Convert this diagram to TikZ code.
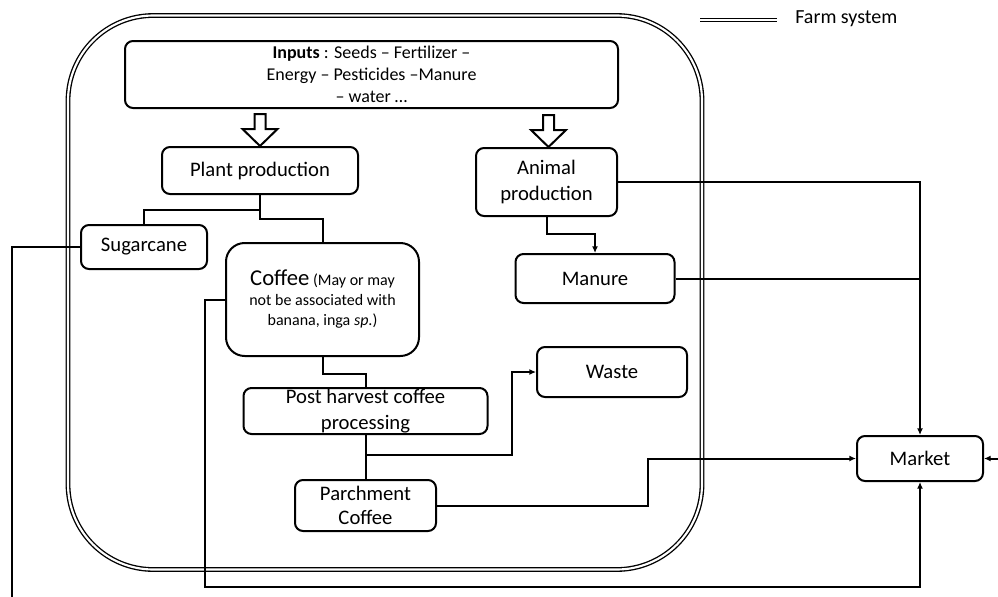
\documentclass[tikz,border=0pt]{standalone}
\usepackage{fontspec}
\setmainfont{Carlito}
\usetikzlibrary{arrows.meta}
\tikzset{
  box/.style={draw, line width=1.5pt, rounded corners=6pt, inner sep=0pt,
    align=center, font=\fontsize{15.5}{19}\selectfont},
  link/.style={line width=1.5pt},
  arr/.style={link, -{Latex[length=5pt,width=4.5pt]}},
  farm/.style={double, line width=1pt, double distance=1.6pt},
  hollow/.pic={
    \draw[line width=1.5pt, line join=miter, fill=white]
      (-5.5,-32) -- (-5.5,-17) -- (-17.5,-17) -- (0,0) -- (17.5,-17)
      -- (5.5,-17) -- (5.5,-32) -- cycle;
  }
}
\begin{document}
\begin{tikzpicture}[x=0.75pt,y=-0.75pt]
\useasboundingbox (0,0) rectangle (998,596);
\fill[white] (0,0) rectangle (998,596);

% farm system boundary and legend
\draw[farm, rounded corners=64pt] (68,15.5) rectangle (702,569.5);
\node[anchor=west, inner sep=0pt, font=\fontsize{15}{18}\selectfont] (legend) at (795,19) {Farm system};
\draw[farm] (700,20) -- (777,20);

% boxes
\node[box, minimum width=369.75pt, minimum height=50.25pt,
      font=\fontsize{13.5}{16.5}\selectfont] (inputs) at (371.5,74.5)
  {\textbf{Inputs} : Seeds – Fertilizer –\\ Energy – Pesticides –Manure\\ – water …};
\node[box, minimum width=147pt, minimum height=35.25pt] (plant) at (260,170.5) {Plant production};
\node[box, minimum width=105.75pt, minimum height=51pt] (animal) at (546.5,182) {Animal\\production};
\node[box, minimum width=94.5pt, minimum height=33pt] (sugar) at (144,247) {Sugarcane};
\node[box, rounded corners=14pt, minimum width=144.75pt, minimum height=84.75pt,
      font=\fontsize{12}{15}\selectfont] (coffee) at (322.5,299.5)
  {{\fontsize{17}{15}\selectfont Coffee} (May or may\\ not be associated with\\ banana, inga \textit{sp}.)};
\node[box, minimum width=183pt, minimum height=34.5pt,
      font=\fontsize{15.5}{19.5}\selectfont] (post) at (365.5,411) {Post harvest coffee\\processing};
\node[box, minimum width=119.25pt, minimum height=36.75pt] (manure) at (595,278.5) {Manure};
\node[box, minimum width=112.5pt, minimum height=37.5pt] (waste) at (612,372) {Waste};
\node[box, minimum width=105.75pt, minimum height=38.25pt,
      font=\fontsize{15.5}{18}\selectfont] (parch) at (365.5,505.5) {Parchment\\Coffee};
\node[box, minimum width=94.5pt, minimum height=33.75pt] (market) at (920,458.5) {Market};

% hollow input arrows
\pic at (plant.north) {hollow};
\pic at ([xshift=1.5pt]animal.north) {hollow};

% free ends and corners
\coordinate (sugarend) at (12,600);
\coordinate (loopcorner) at (205,587);
\coordinate (wastecorner) at (512,455);
\coordinate (offright) at (1010,458.5);

% connectors
\draw[link] (plant.south) -- ++(0,15) -| (sugar.north);
\draw[link] (plant.south) -- ++(0,24) -| (coffee.north);
\draw[link] (sugar.west) -| (sugarend);
\draw[arr] (coffee.west) -| (loopcorner) -| (market.south);
\draw[link] (coffee.south) -- ++(0,17) -| (post.north);
\draw[link] (post.south) -- (parch.north);
\draw[arr] (post.south |- wastecorner) -- (wastecorner) |- (waste.west);
\draw[arr] (parch.east) -- ++(211,0) |- (market.west);
\draw[arr] (animal.east) -| (market.north);
\draw[link] (manure.east) -- (manure.east -| market.north);
\draw[arr] (animal.south) -- ++(0,17) -| (manure.north);
\draw[arr] (offright) -- (market.east);
\end{tikzpicture}
\end{document}
